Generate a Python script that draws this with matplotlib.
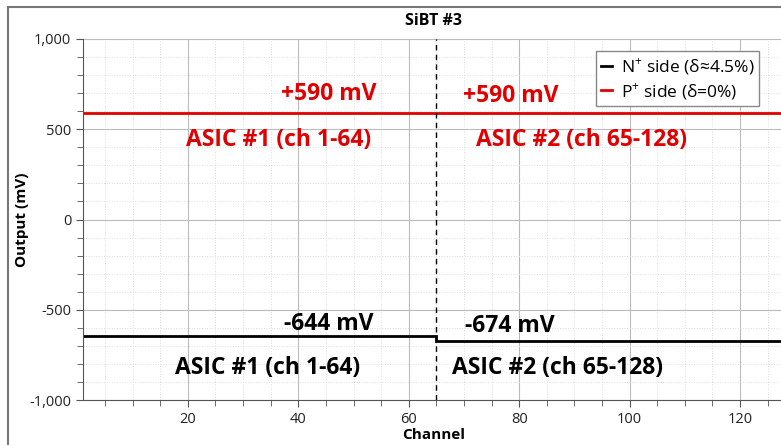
import matplotlib
matplotlib.use("Agg")
import matplotlib.pyplot as plt
from matplotlib.ticker import MultipleLocator, FuncFormatter
from matplotlib.patches import Rectangle

plt.rcParams['font.family'] = ['Open Sans', 'DejaVu Sans']
plt.rcParams['mathtext.fontset'] = 'custom'
plt.rcParams['mathtext.rm'] = 'Open Sans'

# Data
ch_start, ch_split, ch_end = 1, 65, 128
p_level = [590, 590]
n_asic1 = -644
n_asic2 = -674
p_labels = ["+590 mV", "+590 mV"]
n_labels = ["-644 mV", "-674 mV"]
asic_labels = ["ASIC #1 (ch 1-64)", "ASIC #2 (ch 65-128)"]

fig = plt.figure(figsize=(7.81, 4.45), dpi=100)
ax = fig.add_axes([83/781, 1-400/445, 1-83/781+0.004, (400-39)/445])

# frame border
fig.patches.append(Rectangle((8/781, -0.1), 1.2, 1-7/445+0.1, transform=fig.transFigure,
                             fill=False, edgecolor='#777777', linewidth=1.5))

ax.plot([ch_start, ch_split, ch_split, ch_end], [n_asic1, n_asic1, n_asic2, n_asic2],
        color='black', lw=2, label=r'N$^{+}$ side (δ≈4.5%)', solid_joinstyle='miter')
ax.plot([ch_start, ch_end], p_level, color='#e00000', lw=2, label=r'P$^{+}$ side (δ=0%)')
ax.axvline(ch_split, color='black', lw=1, ls=(0, (4, 3)))

ax.set_xlim(ch_start, ch_end)
ax.set_ylim(-1000, 1000)
ax.xaxis.set_major_locator(MultipleLocator(20))
ax.xaxis.set_minor_locator(MultipleLocator(5))
ax.yaxis.set_major_locator(MultipleLocator(500))
ax.yaxis.set_minor_locator(MultipleLocator(100))
ax.yaxis.set_major_formatter(FuncFormatter(lambda v, p: f"{int(v):,}"))
ax.grid(which='major', color='#bbbbbb', lw=0.8)
ax.grid(which='minor', color='#dddddd', lw=0.7, ls=':')
ax.set_axisbelow(True)
for s in ['top', 'right']:
    ax.spines[s].set_visible(False)
for s in ['left', 'bottom']:
    ax.spines[s].set_color('#555555')
ax.tick_params(which='both', color='#555555', labelsize=10.5, labelcolor='#222222')
ax.tick_params(which='major', length=5)
ax.tick_params(which='minor', length=4)

ax.set_title("SiBT #3", fontsize=11.5, fontweight='bold', pad=10)
ax.set_xlabel("Channel", fontsize=11, fontweight='bold', labelpad=1)
ax.set_ylabel("Output (mV)", fontsize=11, fontweight='bold', labelpad=0)

red = '#e00000'
fs = 16.5
ax.text(45.6, 693, p_labels[0], color=red, fontsize=fs, fontweight='bold', ha='center', va='center')
ax.text(78.4, 682, p_labels[1], color=red, fontsize=fs, fontweight='bold', ha='center', va='center')
ax.text(36.5, 440, asic_labels[0], color=red, fontsize=fs, fontweight='bold', ha='center', va='center')
ax.text(91.3, 440, asic_labels[1], color=red, fontsize=fs, fontweight='bold', ha='center', va='center')
ax.text(45.6, -580, n_labels[0], color='black', fontsize=fs, fontweight='bold', ha='center', va='center')
ax.text(78.4, -591, n_labels[1], color='black', fontsize=fs, fontweight='bold', ha='center', va='center')
ax.text(34.4, -822, asic_labels[0], color='black', fontsize=fs, fontweight='bold', ha='center', va='center')
ax.text(86.9, -822, asic_labels[1], color='black', fontsize=fs, fontweight='bold', ha='center', va='center')

leg = ax.legend(loc='upper right', bbox_to_anchor=(0.977, 0.99), fontsize=12.5, handlelength=0.6,
                handletextpad=0.5, fancybox=False, framealpha=1, edgecolor='#888888',
                borderpad=0.3, labelspacing=0.25)

fig.savefig("out.png", dpi=100)
